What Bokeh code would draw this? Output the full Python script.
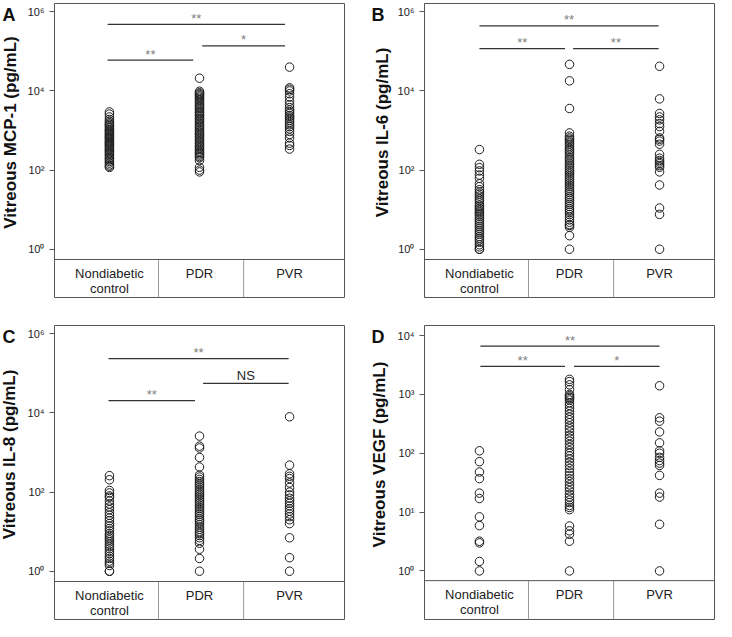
import math
from bokeh.plotting import figure
from bokeh.models import Range1d, FixedTicker, CustomJSTickFormatter, Span
from bokeh.layouts import column, row
from bokeh.embed import file_html
from bokeh.resources import INLINE
from bokeh.core.properties import value

# ---------------- data ----------------
categories = ["Nondiabetic\ncontrol", "PDR", "PVR"]

# Panel A: vitreous MCP-1 (pg/mL)
mcp1_control = [2950, 2600, 2200, 1900, 1700, 1550, 1450, 1350, 1250, 1150, 1050, 980, 920, 860,
                800, 750, 700, 660, 620, 580, 540, 510, 480, 450, 420, 390, 360, 340, 315, 290,
                270, 250, 230, 210, 195, 180, 165, 150, 135, 125, 117]
mcp1_pdr = [21000, 9800, 9000, 8500, 8000, 7500, 7000, 6500, 6000, 5500, 5000, 4600, 4200, 3900,
            3600, 3300, 3000, 2800, 2600, 2400, 2200, 2000, 1850, 1700, 1550, 1400, 1300, 1200,
            1100, 1000, 920, 850, 780, 720, 660, 600, 550, 500, 460, 420, 390, 360, 330, 300,
            280, 260, 240, 220, 205, 175, 118, 100, 90]
mcp1_pvr = [40000, 12000, 11000, 10000, 8500, 7000, 5500, 4500, 3800, 3300, 3000, 2700, 2400,
            2200, 2000, 1800, 1600, 1400, 1250, 1100, 950, 800, 650, 480, 420, 340]

# Panel B: vitreous IL-6 (pg/mL)
il6_control = [330, 140, 115, 95, 75, 62, 45, 38, 32, 28, 25, 22, 19, 17, 15, 13, 12, 11, 10, 9,
               8.2, 7.5, 6.8, 6, 5.4, 4.8, 4.3, 3.8, 3.4, 3, 2.7, 2.4, 2.1, 1.9, 1.7, 1.5, 1.3,
               1.15, 1.0, 1.0]
il6_pdr = [47000, 18000, 3600, 870, 720, 650, 600, 550, 500, 450, 400, 360, 330, 300, 270, 240,
           210, 190, 170, 150, 135, 120, 108, 97, 88, 80, 72, 65, 58, 52, 47, 42, 38, 34, 30, 27,
           24, 21, 19, 17, 15, 13.5, 12, 10.5, 9.5, 8.5, 7.5, 6.5, 5.5, 4.8, 4.2, 4.0, 3.6, 2.2, 1.0]
il6_pvr = [42000, 6300, 2700, 2200, 1860, 1500, 1260, 950, 650, 600, 540, 450, 250, 200, 175, 160,
           145, 130, 118, 90, 42, 11, 7.6, 1.0]

# Panel C: vitreous IL-8 (pg/mL)
il8_control = [260, 205, 110, 95, 80, 74, 60, 50, 42, 36, 30, 26, 22, 19, 16, 14, 12, 10.5, 9, 8,
               7, 6.2, 5.5, 4.8, 4.2, 3.7, 3.2, 2.8, 2.4, 2.1, 1.8, 1.6, 1.4, 1.0, 1.0]
il8_pdr = [2600, 1450, 1300, 750, 430, 270, 240, 210, 185, 165, 150, 135, 120, 108, 97, 88, 80,
           72, 65, 58, 52, 47, 42, 38, 34, 30, 27, 24, 21, 19, 17, 15, 13, 11.5, 10, 9, 8, 7, 6,
           5.1, 3.6, 2.1, 1.0]
il8_pvr = [8000, 480, 290, 250, 220, 170, 130, 100, 85, 70, 60, 52, 45, 38, 33, 28, 24, 20, 16,
           7.0, 2.2, 1.0]

# Panel D: vitreous VEGF (pg/mL)
vegf_control = [110, 72, 48, 37, 21, 17, 8.3, 5.9, 3.2, 3.0, 1.45, 1.0]
vegf_pdr = [1800, 1650, 1450, 1200, 1000, 950, 900, 850, 800, 720, 650, 580, 520, 460, 410, 370,
            330, 290, 260, 230, 200, 180, 160, 140, 125, 110, 100, 90, 80, 70, 62, 55, 48, 42,
            37, 33, 29, 26, 23, 20, 18, 16, 14.5, 13, 12, 11, 5.8, 4.8, 4.2, 3.2, 1.0]
vegf_pvr = [1400, 400, 350, 230, 150, 110, 100, 85, 75, 68, 62, 42, 21, 18, 6.2, 1.0]

# significance brackets (category x from/to, level, text)
A_sig_x0 = [-0.02, -0.02, 1.03]
A_sig_x1 = [1.95, 0.93, 1.95]
A_sig_y = [4.8e5, 6.0e4, 1.38e5]
A_sig_text = ["**", "**", "*"]

B_sig_x0 = [0.0, 0.0, 1.04]
B_sig_x1 = [1.99, 0.95, 1.99]
B_sig_y = [4.4e5, 1.17e5, 1.17e5]
B_sig_text = ["**", "**", "**"]

C_sig_x0 = [-0.01, 1.04, -0.01]
C_sig_x1 = [1.99, 1.99, 0.95]
C_sig_y = [2.35e5, 5.6e4, 2.05e4]
C_sig_text = ["**", "NS", "**"]

D_sig_x0 = [0.01, 0.01, 1.05]
D_sig_x1 = [2.0, 0.95, 2.0]
D_sig_y = [6600, 3000, 3000]
D_sig_text = ["**", "**", "*"]

ticks_wide = [1, 100, 10000, 1000000]
ticks_vegf = [1, 10, 100, 1000, 10000]

panel_letters = ["A", "B", "C", "D"]
y_titles = ["Vitreous MCP-1 (pg/mL)", "Vitreous IL-6 (pg/mL)",
            "Vitreous IL-8 (pg/mL)", "Vitreous VEGF (pg/mL)"]

FONT = "Liberation Sans"
FRAME_W = 290
FRAME_H = 294

SUP_JS = """
const sup = {"0":"\u2070","1":"\u00b9","2":"\u00b2","3":"\u00b3","4":"\u2074","5":"\u2075","6":"\u2076"};
const e = Math.round(Math.log10(tick));
return "10" + String(e).split("").map(c => sup[c]).join("");
"""


def borders(top_row):
    fig_h = 310 if top_row else 311
    bt = 3 if top_row else 15
    return bt, fig_h - bt - FRAME_H


def make_title_strip(letter, ylabel, top_row, width, letter_x, ylabel_x):
    bt, bb = borders(top_row)
    p = figure(frame_width=width, frame_height=FRAME_H,
               x_range=Range1d(0, width), y_range=Range1d(0, FRAME_H),
               output_backend="svg", toolbar_location=None,
               min_border_left=0, min_border_right=0,
               min_border_top=bt, min_border_bottom=bb,
               background_fill_color="white", border_fill_color="white")
    p.outline_line_color = None
    p.axis.visible = False
    p.grid.visible = False
    p.text(x=[letter_x], y=[FRAME_H - 1], text=[letter], text_font=value(FONT),
           text_font_size="18px", text_font_style="bold", text_color="#111111",
           text_align="left", text_baseline="top")
    p.text(x=[ylabel_x], y=[FRAME_H - 129], text=[ylabel], angle=math.pi / 2,
           text_font=value(FONT), text_font_size="17px", text_font_style="bold",
           text_color="#111111", text_align="center", text_baseline="middle")
    return p


def make_panel(groups, ticks, ltop, lsep, lbot, sx0, sx1, sy, stext, left_col, top_row):
    bt, bb = borders(top_row)
    p = figure(frame_width=FRAME_W, frame_height=FRAME_H,
               x_range=Range1d(-0.61, 2.61),
               y_range=Range1d(10 ** lbot, 10 ** ltop),
               y_axis_type="log",
               output_backend="svg", toolbar_location=None,
               min_border_left=30,
               min_border_right=14 if left_col else 2,
               min_border_top=bt, min_border_bottom=bb,
               background_fill_color="white", border_fill_color="white")
    p.outline_line_color = "#555555"
    p.outline_line_width = 1
    p.xaxis.visible = False
    p.xgrid.visible = False
    p.ygrid.visible = False

    ax = p.yaxis[0]
    ax.ticker = FixedTicker(ticks=ticks)
    ax.formatter = CustomJSTickFormatter(code=SUP_JS)
    ax.axis_line_color = None
    ax.major_tick_in = 0
    ax.major_tick_out = 5
    ax.major_tick_line_color = "#555555"
    ax.minor_tick_line_color = None
    ax.major_label_standoff = 5
    ax.major_label_text_font = FONT
    ax.major_label_text_font_size = "11px"
    ax.major_label_text_color = "#222222"

    # plot/table separator and table dividers
    p.add_layout(Span(location=10 ** lsep, dimension="width", line_color="#555555", line_width=1))
    p.segment(x0=[0.545, 1.49], x1=[0.545, 1.49], y0=[10 ** lbot] * 2, y1=[10 ** lsep] * 2,
              line_color="#9a9a9a", line_width=1)
    ytxt = 10 ** (lsep - 0.16 * (lsep - lbot))
    p.text(x=[0, 1, 2], y=[ytxt] * 3, text=categories, text_font=value(FONT),
           text_font_size="13px", text_color="#222222", text_align="center",
           text_baseline="top", text_line_height=1.0)

    # points
    for i, vals in enumerate(groups):
        p.scatter(x=[i] * len(vals), y=vals, marker="circle", size=8.5, fill_color=None,
                  line_color="#1e1e1e", line_width=1)

    # significance brackets
    p.segment(x0=sx0, x1=sx1, y0=sy, y1=sy, line_color="#333333", line_width=1.3)
    mids = [(a + b) / 2 for a, b in zip(sx0, sx1)]
    star_x = [m for m, t in zip(mids, stext) if t != "NS"]
    star_y = [y for y, t in zip(sy, stext) if t != "NS"]
    star_t = [t for t in stext if t != "NS"]
    p.text(x=star_x, y=star_y, text=star_t, text_font=value(FONT), text_font_size="13px",
           text_color="#808080", text_align="center", text_baseline="middle", y_offset=-6)
    ns_x = [m for m, t in zip(mids, stext) if t == "NS"]
    if ns_x:
        ns_y = [y for y, t in zip(sy, stext) if t == "NS"]
        p.text(x=ns_x, y=ns_y, text=["NS"] * len(ns_x), text_font=value(FONT),
               text_font_size="13px", text_color="#222222", text_align="center",
               text_baseline="middle", y_offset=-8)
    return p


sA = make_title_strip(panel_letters[0], y_titles[0], True, 24, 2, 10)
pA = make_panel([mcp1_control, mcp1_pdr, mcp1_pvr], ticks_wide,
                6.21, -0.26, -1.22, A_sig_x0, A_sig_x1, A_sig_y, A_sig_text, True, True)
sB = make_title_strip(panel_letters[1], y_titles[1], True, 36, 13, 24)
pB = make_panel([il6_control, il6_pdr, il6_pvr], ticks_wide,
                6.21, -0.26, -1.22, B_sig_x0, B_sig_x1, B_sig_y, B_sig_text, False, True)
sC = make_title_strip(panel_letters[2], y_titles[2], False, 24, 2, 9)
pC = make_panel([il8_control, il8_pdr, il8_pvr], ticks_wide,
                6.21, -0.26, -1.22, C_sig_x0, C_sig_x1, C_sig_y, C_sig_text, True, False)
sD = make_title_strip(panel_letters[3], y_titles[3], False, 36, 13, 21)
pD = make_panel([vegf_control, vegf_pdr, vegf_pvr], ticks_vegf,
                4.17, -0.165, -0.825, D_sig_x0, D_sig_x1, D_sig_y, D_sig_text, False, False)

layout = column(row(sA, pA, sB, pB), row(sC, pC, sD, pD))
open("out.html", "w").write(file_html(layout, INLINE))
